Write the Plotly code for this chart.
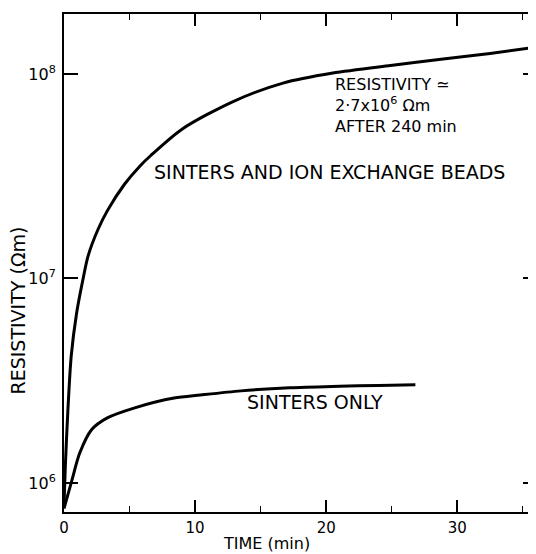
import plotly.graph_objects as go

# Sinters and ion exchange beads (time in min, resistivity in ohm m)
t_beads = [0, 0.1, 0.3, 0.55, 0.96, 1.46, 1.84, 2.6, 3.3, 4.6, 5.8, 6.6, 9.0, 12.9, 16.7, 20.5, 24.9, 28.6, 32.5, 36]
r_beads = [7.8e5, 1.2e6, 2.29e6, 4.17e6, 6.76e6, 1.0e7, 1.29e7, 1.74e7, 2.14e7, 2.88e7, 3.55e7, 3.98e7,
           5.37e7, 7.33e7, 9.02e7, 1.01e8, 1.10e8, 1.175e8, 1.26e8, 1.35e8]

# Sinters only
t_sinters = [0, 0.6, 1.2, 2.1, 3.3, 5.4, 8.4, 10.4, 13.5, 17.2, 21, 24, 26.8]
r_sinters = [7.5e5, 1.03e6, 1.40e6, 1.82e6, 2.08e6, 2.33e6, 2.60e6, 2.69e6, 2.82e6, 2.92e6, 2.97e6, 3.0e6, 3.02e6]

x_ticks = [0, 10, 20, 30]
x_tick_labels = ["0", "10", "20", "30"]
y_ticks = [1e6, 1e7, 1e8]
y_tick_labels = ["10<sup>6</sup>", "10<sup>7</sup>", "10<sup>8</sup>"]

FONT = "DejaVu Sans"

fig = go.Figure()
fig.add_trace(go.Scatter(x=t_beads, y=r_beads, mode="lines",
                         line=dict(color="black", width=3, shape="spline", smoothing=0.8),
                         showlegend=False, hoverinfo="skip"))
fig.add_trace(go.Scatter(x=t_sinters, y=r_sinters, mode="lines",
                         line=dict(color="black", width=3, shape="spline", smoothing=0.8),
                         showlegend=False, hoverinfo="skip"))
# invisible trace that carries the right-hand tick axis
fig.add_trace(go.Scatter(x=[t_beads[0]], y=[r_beads[0]], yaxis="y2", mode="markers",
                         marker=dict(opacity=0), showlegend=False, hoverinfo="skip"))

fig.update_layout(
    width=528, height=546,
    margin=dict(l=56, r=0, t=6, b=42),
    paper_bgcolor="white", plot_bgcolor="white",
    font=dict(family=FONT, size=16, color="black"),
    xaxis=dict(range=[0, 36], tickvals=x_ticks, ticktext=x_tick_labels,
               ticks="inside", ticklen=12, tickwidth=1.5, tickcolor="black",
               minor=dict(dtick=5, ticks="inside", ticklen=6, tickwidth=1.2, tickcolor="black"),
               showline=True, linecolor="black", linewidth=2, mirror="ticks",
               showgrid=False, zeroline=False, automargin=False,
               tickfont=dict(size=15), ticklabelstandoff=1),
    yaxis=dict(type="log", range=[5.858, 8.293], tickvals=y_ticks, ticktext=y_tick_labels,
               ticks="inside", ticklen=14, tickwidth=1.5, tickcolor="black",
               showline=True, linecolor="black", linewidth=2,
               showgrid=False, zeroline=False, automargin=False,
               tickfont=dict(size=16), ticklabelstandoff=3),
    yaxis2=dict(type="log", range=[5.858, 8.293], overlaying="y", side="right",
                tickvals=y_ticks, showticklabels=False,
                ticks="inside", ticklen=13, tickwidth=1.5, tickcolor="black",
                showline=False, showgrid=False, zeroline=False),
)

# axis titles, placed as in the original (off-centre)
fig.add_annotation(x=-0.097, y=0.405, xref="paper", yref="paper", text="RESISTIVITY (Ωm)",
                   textangle=-90, showarrow=False, xanchor="center", yanchor="middle",
                   font=dict(size=19))
fig.add_annotation(x=0.428, y=-0.063, xref="paper", yref="paper", text="TIME (min)",
                   showarrow=False, xanchor="center", yanchor="middle", font=dict(size=16))

fig.add_annotation(x=6.7, y=7.521, xref="x", yref="y", text="SINTERS AND ION EXCHANGE BEADS",
                   showarrow=False, xanchor="left", yanchor="middle", font=dict(size=19))
fig.add_annotation(x=13.8, y=6.396, xref="x", yref="y", text="SINTERS ONLY",
                   showarrow=False, xanchor="left", yanchor="middle", font=dict(size=19))
fig.add_annotation(x=20.5, y=7.848, xref="x", yref="y",
                   text="RESISTIVITY ≃<br>2·7x10<sup>6</sup> Ωm<br>AFTER 240 min",
                   showarrow=False, xanchor="left", yanchor="middle", align="left",
                   font=dict(size=16))

fig.write_html("out.html")
